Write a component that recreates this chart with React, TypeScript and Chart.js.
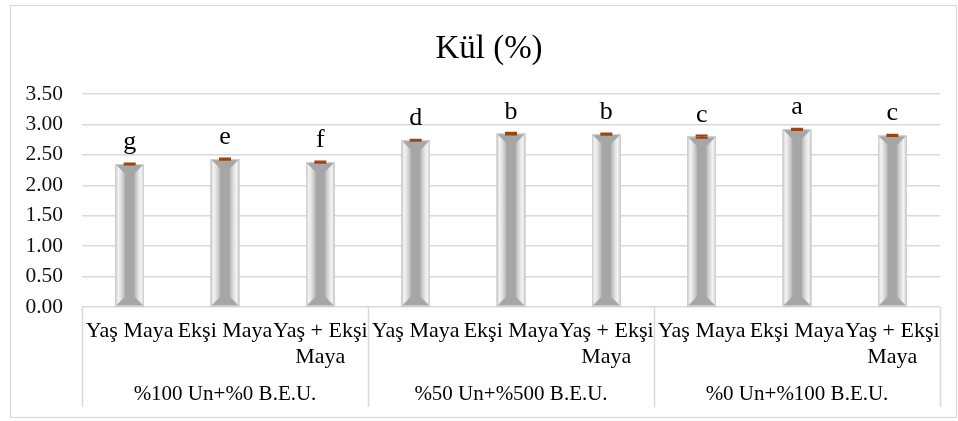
import { useEffect, useRef } from "react";
import { Chart, registerables } from "chart.js";

Chart.register(...registerables);

// Flour blend groups and the yeast type used within each group
const flourGroups = ["%100 Un+%0 B.E.U.", "%50 Un+%500 B.E.U.", "%0 Un+%100 B.E.U."];
const yeastTypes: string[][] = [["Yaş Maya"], ["Ekşi Maya"], ["Yaş + Ekşi", "Maya"]];

// Ash content (%) and its standard error, in group order
const ashValues = [2.35, 2.43, 2.38, 2.74, 2.85, 2.84, 2.8, 2.92, 2.82];
const ashErrors = [0.01, 0.01, 0.01, 0.01, 0.015, 0.01, 0.02, 0.01, 0.01];

// Significance letters printed above each bar
const significance = ["g", "e", "f", "d", "b", "b", "c", "a", "c"];

// Value axis
const yMin = 0;
const yMax = 3.5;
const yStep = 0.5;

const chartTitle = "Kül (%)";

const SERIF = "'Liberation Serif', 'Times New Roman', serif";
const GRID = "#d9d9d9";

const categoryLabels: string[][] = [];
flourGroups.forEach(() => yeastTypes.forEach((t) => categoryLabels.push(t)));

const decorPlugin = {
  id: "ashDecor",
  beforeDraw(chart: any) {
    const ctx = chart.ctx as CanvasRenderingContext2D;
    ctx.save();
    ctx.fillStyle = "#ffffff";
    ctx.fillRect(0, 0, chart.width, chart.height);
    ctx.strokeStyle = GRID;
    ctx.lineWidth = 1.2;
    ctx.strokeRect(10.5, 5.5, chart.width - 12, chart.height - 9);
    ctx.fillStyle = "#000000";
    ctx.font = `33px ${SERIF}`;
    ctx.textAlign = "center";
    ctx.textBaseline = "alphabetic";
    ctx.fillText(chartTitle, 489, 58);
    ctx.restore();
  },
  afterDatasetsDraw(chart: any) {
    const ctx = chart.ctx as CanvasRenderingContext2D;
    const area = chart.chartArea;
    const xScale = chart.scales.x;
    const yScale = chart.scales.y;
    const meta = chart.getDatasetMeta(0);
    ctx.save();

    // bevelled bar faces
    meta.data.forEach((el: any) => {
      const { x, y, base, width } = el.getProps(["x", "y", "base", "width"], true);
      const x0 = x - width / 2;
      const x1 = x + width / 2;
      const b = Math.min(10, width * 0.34);
      const gl = ctx.createLinearGradient(x0, 0, x0 + b, 0);
      gl.addColorStop(0, "#c8c8c8");
      gl.addColorStop(0.3, "#f4f4f4");
      gl.addColorStop(0.6, "#dedede");
      gl.addColorStop(1, "#b4b4b4");
      ctx.fillStyle = gl;
      ctx.beginPath();
      ctx.moveTo(x0, y);
      ctx.lineTo(x0 + b, y + b);
      ctx.lineTo(x0 + b, base - b);
      ctx.lineTo(x0, base);
      ctx.closePath();
      ctx.fill();
      const gr = ctx.createLinearGradient(x1, 0, x1 - b, 0);
      gr.addColorStop(0, "#c8c8c8");
      gr.addColorStop(0.3, "#f4f4f4");
      gr.addColorStop(0.6, "#dedede");
      gr.addColorStop(1, "#b4b4b4");
      ctx.fillStyle = gr;
      ctx.beginPath();
      ctx.moveTo(x1, y);
      ctx.lineTo(x1 - b, y + b);
      ctx.lineTo(x1 - b, base - b);
      ctx.lineTo(x1, base);
      ctx.closePath();
      ctx.fill();
      ctx.strokeStyle = "#d2d2d2";
      ctx.lineWidth = 1;
      ctx.strokeRect(x0 + 0.5, y + 0.5, width - 1, base - y - 1);
    });

    // error bars
    ctx.strokeStyle = "#9c4510";
    ctx.lineWidth = 2;
    meta.data.forEach((el: any, i: number) => {
      const x = el.x;
      const hi = yScale.getPixelForValue(ashValues[i] + ashErrors[i]);
      const lo = yScale.getPixelForValue(ashValues[i] - ashErrors[i]);
      ctx.beginPath();
      ctx.moveTo(x, hi);
      ctx.lineTo(x, lo);
      ctx.moveTo(x - 6, hi);
      ctx.lineTo(x + 6, hi);
      ctx.moveTo(x - 6, lo);
      ctx.lineTo(x + 6, lo);
      ctx.stroke();
    });

    // significance letters
    ctx.fillStyle = "#000000";
    ctx.font = `26px ${SERIF}`;
    ctx.textAlign = "center";
    ctx.textBaseline = "alphabetic";
    meta.data.forEach((el: any, i: number) => {
      ctx.fillText(significance[i], el.x, el.y - 15);
    });

    // two-level category axis
    const bottom = area.bottom;
    const boxBottom = 407;
    ctx.strokeStyle = GRID;
    ctx.lineWidth = 1.5;
    const n = categoryLabels.length;
    const per = yeastTypes.length;
    const bounds: number[] = [area.left];
    for (let g = 1; g < flourGroups.length; g++) {
      bounds.push((xScale.getPixelForValue(g * per - 1) + xScale.getPixelForValue(g * per)) / 2);
    }
    bounds.push(area.right);
    bounds.forEach((bx) => {
      ctx.beginPath();
      ctx.moveTo(Math.round(bx) + 0.5, bottom);
      ctx.lineTo(Math.round(bx) + 0.5, boxBottom);
      ctx.stroke();
    });

    ctx.fillStyle = "#000000";
    ctx.font = `22px ${SERIF}`;
    for (let i = 0; i < n; i++) {
      const x = xScale.getPixelForValue(i);
      categoryLabels[i].forEach((line, k) => ctx.fillText(line, x, 337 + k * 26));
    }
    ctx.font = `21px ${SERIF}`;
    flourGroups.forEach((g, gi) => {
      ctx.fillText(g, (bounds[gi] + bounds[gi + 1]) / 2, 400);
    });
    ctx.restore();
  },
};

export default function App() {
  const canvasRef = useRef<HTMLCanvasElement | null>(null);

  useEffect(() => {
    const canvas = canvasRef.current;
    if (!canvas) return;
    const chart = new Chart(canvas, {
      type: "bar",
      data: {
        labels: categoryLabels.map((l) => l.join(" ")),
        datasets: [
          {
            label: chartTitle,
            data: ashValues,
            backgroundColor: "#a6a6a6",
            borderWidth: 0,
            barPercentage: 0.3,
            categoryPercentage: 1,
          },
        ],
      },
      options: {
        responsive: false,
        animation: false,
        layout: { padding: { top: 94, bottom: 114, left: 0, right: 18 } },
        plugins: {
          legend: { display: false },
          title: { display: false },
          tooltip: { enabled: false },
        },
        scales: {
          x: { display: false },
          y: {
            min: yMin,
            max: yMax,
            afterFit: (scale: any) => {
              scale.width = 82;
            },
            ticks: {
              stepSize: yStep,
              padding: 19,
              color: "#111111",
              font: { family: SERIF, size: 21.5 },
              callback: (v: any) => Number(v).toFixed(2),
            },
            grid: { color: GRID, lineWidth: 1.5, drawTicks: false },
            border: { display: false },
          },
        },
      },
      plugins: [decorPlugin],
    });
    return () => chart.destroy();
  }, []);

  return (
    <div style={{ position: "fixed", left: 0, top: 0, width: 958, height: 421, background: "#fff" }}>
      <canvas ref={canvasRef} width={958} height={421} style={{ display: "block" }} />
    </div>
  );
}
